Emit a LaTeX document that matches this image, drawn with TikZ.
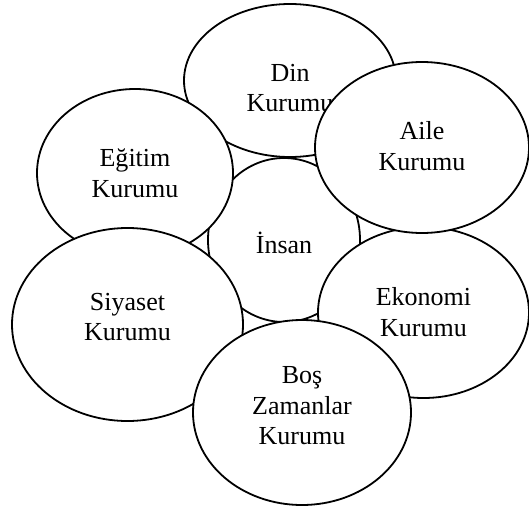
\documentclass[tikz,border=0pt]{standalone}
\usepackage{fontspec}
\setmainfont{Liberation Serif}
\usetikzlibrary{shapes.geometric}
\tikzset{
  inst/.style={draw=black, line width=1.8pt, fill=white, ellipse, inner sep=0pt},
  lbl/.style={align=center, inner sep=0pt, font=\fontsize{26}{30.5}\selectfont}
}
\begin{document}
\begin{tikzpicture}[x=1pt, y=-1pt]
\useasboundingbox (0,0) rectangle (529,511);
% Insan
\node[inst, minimum width=152pt, minimum height=164pt] (insan) at (284,240) {};
\node[lbl] (tinsan) at (284,243) {İnsan};
% Din
\node[inst, minimum width=212pt, minimum height=153pt] (din) at (290,80.5) {};
\node[lbl] (tdin) at (290,88) {Din\\Kurumu};
% Egitim
\node[inst, minimum width=196pt, minimum height=168pt] (egitim) at (135,173) {};
\node[lbl] (tegitim) at (135,173) {Eğitim\\Kurumu};
% Siyaset
\node[inst, minimum width=231pt, minimum height=193pt] (siyaset) at (127.5,324.5) {};
\node[lbl] (tsiyaset) at (127.5,317) {Siyaset\\Kurumu};
% Ekonomi
\node[inst, minimum width=211pt, minimum height=171pt] (ekonomi) at (423.5,312.5) {};
\node[lbl] (tekonomi) at (423.5,312) {Ekonomi\\Kurumu};
% Aile
\node[inst, minimum width=214pt, minimum height=171pt] (aile) at (422,147.5) {};
\node[lbl] (taile) at (422,146) {Aile\\Kurumu};
% Bos
\node[inst, minimum width=218pt, minimum height=185pt] (bos) at (302,412.5) {};
\node[lbl] (tbos) at (302,406) {Boş\\Zamanlar\\Kurumu};
\end{tikzpicture}
\end{document}
